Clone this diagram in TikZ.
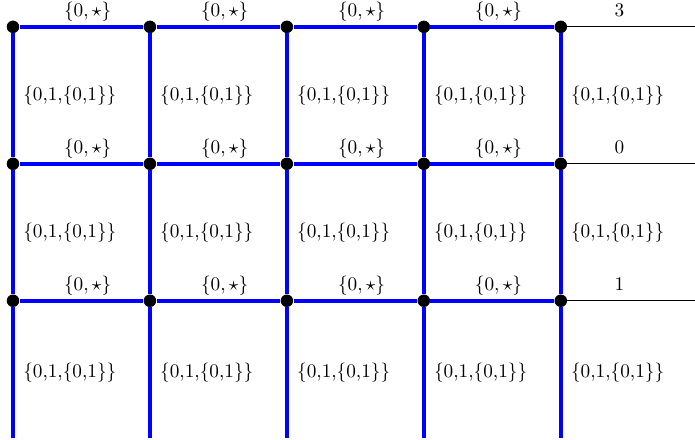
\documentclass[tikz,border=0pt]{standalone}
\usepackage{xcolor}
\usepackage{tikz}
\usetikzlibrary{positioning, calc}
\usepackage{amsmath, amssymb}
\definecolor{edgeblue}{RGB}{0, 0, 255}

\begin{document}
\begin{tikzpicture}[
    vertex/.style={circle, fill=black, inner sep=0pt, minimum size=6.5pt},
    edge/.style={draw=edgeblue, line width=2pt},
    tail/.style={draw=black, line width=0.5pt}
]
    \useasboundingbox (-0.237,0.49) rectangle (12.45,-7.54);
    % grid vertices and free ends
    \foreach \c in {0,...,4} {
        \foreach \r in {0,1,2}
            \node[vertex] (v\c\r) at (2.5*\c, -2.5*\r) {};
        \coordinate (b\c) at (2.5*\c, -7.5);
    }
    \foreach \r in {0,1,2}
        \coordinate (t\r) at (12.5, -2.5*\r);
    % horizontal edges
    \foreach \c [count=\n from 1] in {0,...,3}
        \foreach \r in {0,1,2}
            \draw[edge] (v\c\r) -- node[pos=0.55, above=-1.5pt] {$\{0,\star\}$} (v\n\r);
    % vertical edges
    \foreach \c in {0,...,4} {
        \draw[edge] (v\c0) -- node[right, xshift=1pt] {\{0,1,\{0,1\}\}} (v\c1);
        \draw[edge] (v\c1) -- node[right, xshift=1pt] {\{0,1,\{0,1\}\}} (v\c2);
        \draw[edge] (v\c2) -- node[right, xshift=1pt] {\{0,1,\{0,1\}\}} (b\c);
    }
    % right tails
    \foreach \r/\k in {0/3, 1/0, 2/1}
        \draw[tail] (v4\r) -- node[pos=0.4, above=1.5pt] {\k} (t\r);
\end{tikzpicture}
\end{document}
